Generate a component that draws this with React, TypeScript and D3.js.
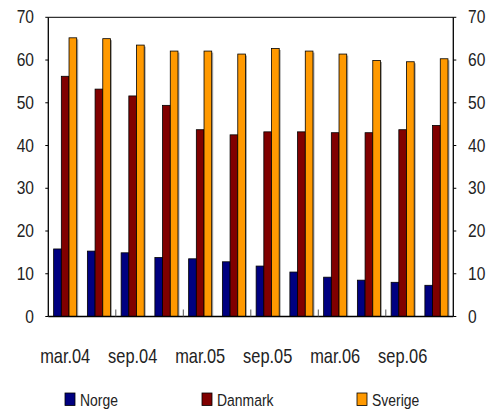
import React from "react";
import * as d3 from "d3";

const categories = ["mar.04","jun.04","sep.04","dec.04","mar.05","jun.05","sep.05","dec.05","mar.06","jun.06","sep.06","dec.06"];
const tickLabels = ["mar.04","sep.04","mar.05","sep.05","mar.06","sep.06"];
const seriesNames = ["Norge","Danmark","Sverige"];
const norge = [15.8,15.3,14.9,13.8,13.5,12.8,11.8,10.4,9.2,8.5,8.0,7.3];
const danmark = [56.2,53.2,51.6,49.4,43.7,42.5,43.2,43.2,43.0,43.0,43.7,44.7];
const sverige = [65.2,65.0,63.5,62.1,62.1,61.4,62.7,62.1,61.4,59.9,59.6,60.3];
const colors = ["#000080","#800000","#FF9900"];
const yTicks = [0,10,20,30,40,50,60,70];

const W = 486, H = 415;
const left = 48.3, right = 453.3, top = 17.3, bottom = 316.5;
const font = "'Liberation Sans', Arial, sans-serif";
const SX = 0.82;

function NText(props: { x: number; y: number; size: number; anchor?: string; baseline?: string; children: React.ReactNode }) {
  return (
    <text
      transform={`translate(${props.x},${props.y}) scale(${SX},1)`}
      textAnchor={props.anchor || "start"}
      dominantBaseline={props.baseline}
      fontFamily={font}
      fontSize={props.size}
      fill="#222"
    >
      {props.children}
    </text>
  );
}

export default function App() {
  const x = d3.scaleBand<string>().domain(categories).range([left, right]).paddingInner(0).paddingOuter(0);
  const y = d3.scaleLinear().domain([0, 70]).range([bottom, top]);
  const inner = d3.scaleBand<string>().domain(seriesNames).range([0, x.bandwidth() * 0.684]);
  const offset = (x.bandwidth() - inner.range()[1]) / 2;
  const data = [norge, danmark, sverige];
  const bw = inner.bandwidth();

  return (
    <svg width={W} height={H} style={{ position: "absolute", left: 0, top: 0 }}>
      <rect width={W} height={H} fill="#fff" />
      {data.map((vals, si) =>
        vals.map((v, i) => {
          const bx = (x(categories[i]) as number) + offset + (inner(seriesNames[si]) as number);
          return (
            <rect key={`s${si}-${i}`} x={bx + 1.5} y={y(v) + 1.5} width={bw} height={bottom - y(v) - 1.5} fill="#a8a8a8" />
          );
        })
      )}
      {data.map((vals, si) =>
        vals.map((v, i) => {
          const bx = (x(categories[i]) as number) + offset + (inner(seriesNames[si]) as number);
          return (
            <rect key={`b${si}-${i}`} x={bx} y={y(v)} width={bw} height={bottom - y(v)} fill={colors[si]} stroke="#000" strokeWidth={0.8} />
          );
        })
      )}
      <line x1={left} x2={right} y1={top} y2={top} stroke="#000" strokeWidth={1} />
      <line x1={left} x2={left} y1={top} y2={bottom} stroke="#000" strokeWidth={1.3} />
      <line x1={right} x2={right} y1={top} y2={bottom} stroke="#000" strokeWidth={1.3} />
      <line x1={left} x2={right} y1={bottom} y2={bottom} stroke="#000" strokeWidth={1.3} />
      {categories.map((c, i) =>
        i > 0 && i % 2 === 0 ? (
          <line key={`xt${i}`} x1={x(c) as number} x2={x(c) as number} y1={bottom} y2={bottom - 7} stroke="#555" strokeWidth={1} />
        ) : null
      )}
      {yTicks.map((t) => (
        <g key={`yt${t}`}>
          <line x1={left - 3} x2={left} y1={y(t)} y2={y(t)} stroke="#000" />
          <line x1={right} x2={right + 3} y1={y(t)} y2={y(t)} stroke="#000" />
          <NText x={34} y={y(t) + 1} size={19} anchor="end" baseline="middle">{t}</NText>
          <NText x={468} y={y(t) + 1} size={19} anchor="start" baseline="middle">{t}</NText>
        </g>
      ))}
      {tickLabels.map((l) => (
        <NText key={l} x={(x(l) as number) + x.bandwidth() / 2} y={363} size={20} anchor="middle">{l}</NText>
      ))}
      {seriesNames.map((n, i) => {
        const lx = [65, 202, 357][i];
        return (
          <g key={n}>
            <rect x={lx} y={393} width={10} height={12.5} fill={colors[i]} stroke="#000" strokeWidth={0.8} />
            <NText x={lx + 15} y={405.5} size={17}>{n}</NText>
          </g>
        );
      })}
    </svg>
  );
}
